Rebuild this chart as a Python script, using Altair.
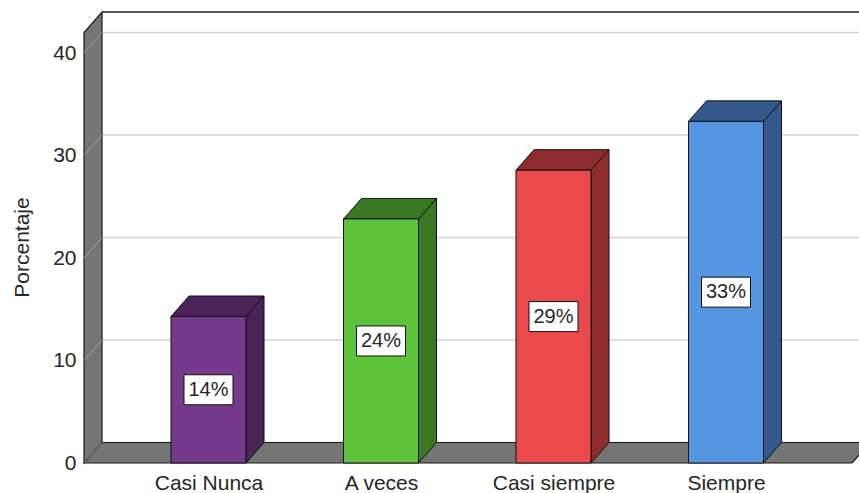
import json
import altair as alt
import pandas as pd

# ---- data ----
categories = ["Casi Nunca", "A veces", "Casi siempre", "Siempre"]
percentages = [14.29, 23.81, 28.57, 33.33]
value_labels = ["14%", "24%", "29%", "33%"]
front_colors = ["#763a8c", "#5cc33a", "#eb4a4c", "#5596e3"]
dark_colors = ["#4a2359", "#3a7822", "#8e2b2d", "#36598d"]
y_ticks = [0, 10, 20, 30, 40]

# ---- geometry (styling) ----
W, H = 775, 451
Y_MAX = 44.0
PX_PER_UNIT = H / Y_MAX
DX = 18.0            # depth in x units (1 unit = 1 px)
DY = 20.5 / PX_PER_UNIT  # depth in y units
FIRST, STEP, HW = 124.5, 172.5, 37.5
WALL_TOP = 42.0
FLOOR_END = 768.0
FONT = "Liberation Sans"
TXT = "#262626"

centers = [FIRST + STEP * i for i in range(len(categories))]

xscale = alt.Scale(domain=[0, W], nice=False, zero=False)
yscale = alt.Scale(domain=[0, Y_MAX], nice=False, zero=False)
label_expr = json.dumps(categories) + f"[round((datum.value - {FIRST}) / {STEP})]"
xaxis = alt.Axis(values=centers, labelExpr=label_expr, title=None, ticks=False,
                 domain=False, grid=False, labelFontSize=21, labelColor=TXT,
                 labelFont=FONT, labelPadding=9)
yaxis = alt.Axis(values=y_ticks, title="Porcentaje", ticks=False, domain=False,
                 grid=False, labelFontSize=21, labelColor=TXT, labelFont=FONT,
                 labelPadding=8, titleFontSize=21, titleFont=FONT,
                 titleFontWeight="normal", titleColor=TXT, titlePadding=20,
                 titleY=235)


def X(f):
    return alt.X(f, type="quantitative", scale=xscale, axis=xaxis)


def Y(f):
    return alt.Y(f, type="quantitative", scale=yscale, axis=yaxis)


# back wall
back = pd.DataFrame({"x": [DX], "x2": [W + 40], "y": [DY], "y2": [Y_MAX]})
back_rect = alt.Chart(back).mark_rect(fill="white").encode(
    x=X("x"), x2="x2", y=Y("y"), y2="y2")
top_line = alt.Chart(back).mark_rule(color="#222", strokeWidth=1.5).encode(
    x=X("x"), x2="x2", y=Y("y2"))

grid = pd.DataFrame({"t": y_ticks})
grid["yb"] = grid["t"] + DY
grid["x"] = DX
grid["x2"] = W + 40
grid["x0"] = 0.0
grid_back = alt.Chart(grid).mark_rule(color="#d4d4d4", strokeWidth=1.5).encode(
    x=X("x"), x2="x2", y=Y("yb"))

# floor
floor = pd.DataFrame({"y": [0.0, DY], "x": [0.0, DX], "x2": [FLOOR_END, FLOOR_END + DX]})
floor_area = alt.Chart(floor).mark_area(orient="horizontal", fill="#757575",
                                        stroke="#1a1a1a", strokeWidth=1.2).encode(
    y=Y("y"), x=X("x"), x2="x2")

# left wall
wall = pd.DataFrame({"x": [0.0, DX], "y": [0.0, DY], "y2": [WALL_TOP, WALL_TOP + DY]})
wall_area = alt.Chart(wall).mark_area(orient="vertical", fill="#757575",
                                      stroke="#1a1a1a", strokeWidth=1.2).encode(
    x=X("x"), y=Y("y"), y2="y2")
grid_wall = alt.Chart(grid).mark_rule(color="#a0a0a0", strokeWidth=1).encode(
    x=X("x0"), x2="x", y=Y("t"), y2="yb")

# bars
front_rows, side_rows, top_rows, box_rows = [], [], [], []
for c, cat, v, lab in zip(centers, categories, percentages, value_labels):
    front_rows.append({"cat": cat, "x": c - HW, "x2": c + HW, "y": 0.0, "y2": v})
    side_rows += [{"cat": cat, "x": c + HW, "y": 0.0, "y2": v},
                  {"cat": cat, "x": c + HW + DX, "y": DY, "y2": v + DY}]
    top_rows += [{"cat": cat, "y": v, "x": c - HW, "x2": c + HW},
                 {"cat": cat, "y": v + DY, "x": c - HW + DX, "x2": c + HW + DX}]
    hh = 15 / PX_PER_UNIT
    box_rows.append({"cat": cat, "lab": lab, "xc": c, "yc": v / 2,
                     "x": c - 24.5, "x2": c + 24.5, "y": v / 2 - hh, "y2": v / 2 + hh})

front_fill = alt.Fill("cat:N", scale=alt.Scale(domain=categories, range=front_colors), legend=None)
dark_fill = alt.Fill("cat:N", scale=alt.Scale(domain=categories, range=dark_colors), legend=None)

side = alt.Chart(pd.DataFrame(side_rows)).mark_area(
    orient="vertical", stroke="#111", strokeWidth=1).encode(
    x=X("x"), y=Y("y"), y2="y2", detail="cat:N", fill=dark_fill)
top = alt.Chart(pd.DataFrame(top_rows)).mark_area(
    orient="horizontal", stroke="#111", strokeWidth=1).encode(
    y=Y("y"), x=X("x"), x2="x2", detail="cat:N", fill=dark_fill)
front = alt.Chart(pd.DataFrame(front_rows)).mark_rect(
    stroke="#111", strokeWidth=1).encode(
    x=X("x"), x2="x2", y=Y("y"), y2="y2", fill=front_fill)

boxes = pd.DataFrame(box_rows)
box = alt.Chart(boxes).mark_rect(fill="white", stroke="#111", strokeWidth=1).encode(
    x=X("x"), x2="x2", y=Y("y"), y2="y2")
txt = alt.Chart(boxes).mark_text(fontSize=20, font=FONT, color=TXT,
                                 baseline="middle", align="center").encode(
    x=X("xc"), y=Y("yc"), text="lab:N")

chart = alt.layer(
    back_rect, grid_back, top_line, floor_area, wall_area, grid_wall,
    side, top, front, box, txt
).resolve_scale(fill="independent").properties(
    width=W, height=H,
    padding={"left": 84, "top": 12, "right": 0, "bottom": 30},
    autosize="none",
    background="white",
).configure_view(stroke=None)

chart.save("out.html", embed_options={"renderer": "svg", "actions": False})
